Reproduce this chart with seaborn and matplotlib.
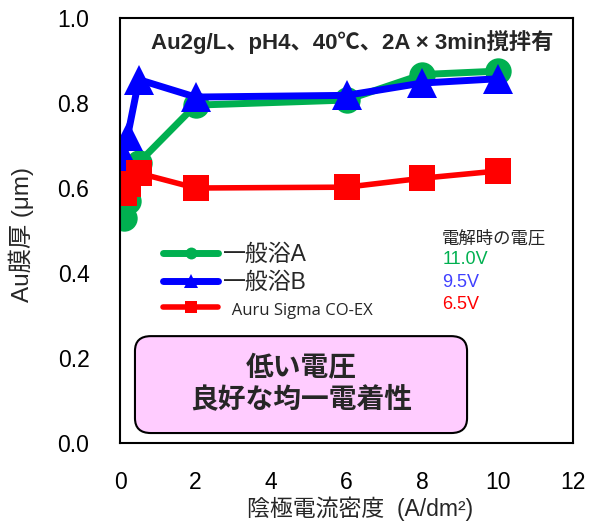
import numpy as np
import pandas as pd
import matplotlib
matplotlib.use('Agg')
import matplotlib.pyplot as plt
import seaborn as sns
from matplotlib.patches import FancyBboxPatch

# データ
current_density = [0.1, 0.2, 0.5, 2, 6, 8, 10]
bath_a = [0.53, 0.57, 0.66, 0.795, 0.807, 0.867, 0.875]
bath_b = [0.673, 0.722, 0.855, 0.814, 0.818, 0.847, 0.857]
auru = [0.588, 0.61, 0.635, 0.600, 0.602, 0.623, 0.640]

series_names = ['一般浴A', '一般浴B', '  Auru Sigma CO-EX']
series_colors = ['#00B050', '#0000FF', '#FF0000']
series_markers = ['o', '^', 's']
voltages = ['11.0V', '9.5V', '6.5V']
voltage_colors = ['#00B050', '#4040FF', '#FF0000']

x_ticks = [0, 2, 4, 6, 8, 10, 12]
y_ticks = [0.0, 0.2, 0.4, 0.6, 0.8, 1.0]

sns.set_style('white')
plt.rcParams['font.family'] = ['Liberation Sans', 'Noto Sans CJK JP', 'DejaVu Sans']

fig = plt.figure(figsize=(5.93, 5.22), dpi=100)
ax = fig.add_axes([0.2024, 0.1513, 0.764, 0.8142])

df = pd.DataFrame({'x': current_density * 3,
                   'y': bath_a + bath_b + auru,
                   'name': np.repeat(series_names, len(current_density))})

sizes = [19, 22, 19]
widths = [5, 5, 4]
for name, col, mk, ms, lw in zip(series_names, series_colors, series_markers, sizes, widths):
    sub = df[df['name'] == name]
    sns.lineplot(data=sub, x='x', y='y', ax=ax, color=col, marker=mk, markersize=ms,
                 markeredgewidth=0, linewidth=lw, label=name)

ax.set_xlim(0, 12)
ax.set_ylim(0, 1.0)
ax.set_xticks(x_ticks)
ax.set_yticks(y_ticks)
ax.set_xticklabels([str(t) for t in x_ticks])
ax.set_yticklabels([f'{t:.1f}' for t in y_ticks])
ax.tick_params(axis='x', direction='in', length=6, width=1.5, pad=20, labelsize=16.5, colors='black')
ax.tick_params(axis='y', direction='in', length=7, width=1.5, pad=22, labelsize=16.5, colors='black')
for sp in ax.spines.values():
    sp.set_color('black')
    sp.set_linewidth(1.5)

ax.set_xlabel('陰極電流密度  (A/dm²)', fontsize=16.5)
ax.set_ylabel('Au膜厚 (μm)', fontsize=17.5)
ax.xaxis.set_label_coords(0.53, -0.125)
ax.yaxis.set_label_coords(-0.19, 0.49)

ax.text(0.513, 0.943, 'Au2g/L、pH4、40℃、2A × 3min撹拌有', transform=ax.transAxes,
        ha='center', va='center', fontsize=16, fontweight='bold')

leg = ax.legend(loc='upper left', bbox_to_anchor=(0.05, 0.52), frameon=False,
                fontsize=16.5, markerscale=0.45, handlelength=2.4, handletextpad=0.2,
                labelspacing=0.22)
leg.get_texts()[2].set_fontfamily(['Open Sans', 'DejaVu Sans'])
leg.get_texts()[2].set_fontsize(12)

ax.text(0.711, 0.482, '電解時の電圧', transform=ax.transAxes, ha='left', va='center', fontsize=12.5)
for i, (v, c) in enumerate(zip(voltages, voltage_colors)):
    ax.text(0.711, 0.431 - i * 0.053, v, transform=ax.transAxes, ha='left', va='center',
            fontsize=13, color=c)

box = FancyBboxPatch((0.033, 0.0235), 0.733, 0.228, boxstyle='round,pad=0,rounding_size=0.035',
                     transform=ax.transAxes, facecolor='#FFCCFF', edgecolor='black',
                     linewidth=1.5, zorder=5)
ax.add_patch(box)
ax.text(0.40, 0.137, '低い電圧\n良好な均一電着性', transform=ax.transAxes, ha='center',
        va='center', fontsize=20, fontweight='bold', linespacing=1.2, zorder=6)

plt.savefig('out.png', dpi=100)
